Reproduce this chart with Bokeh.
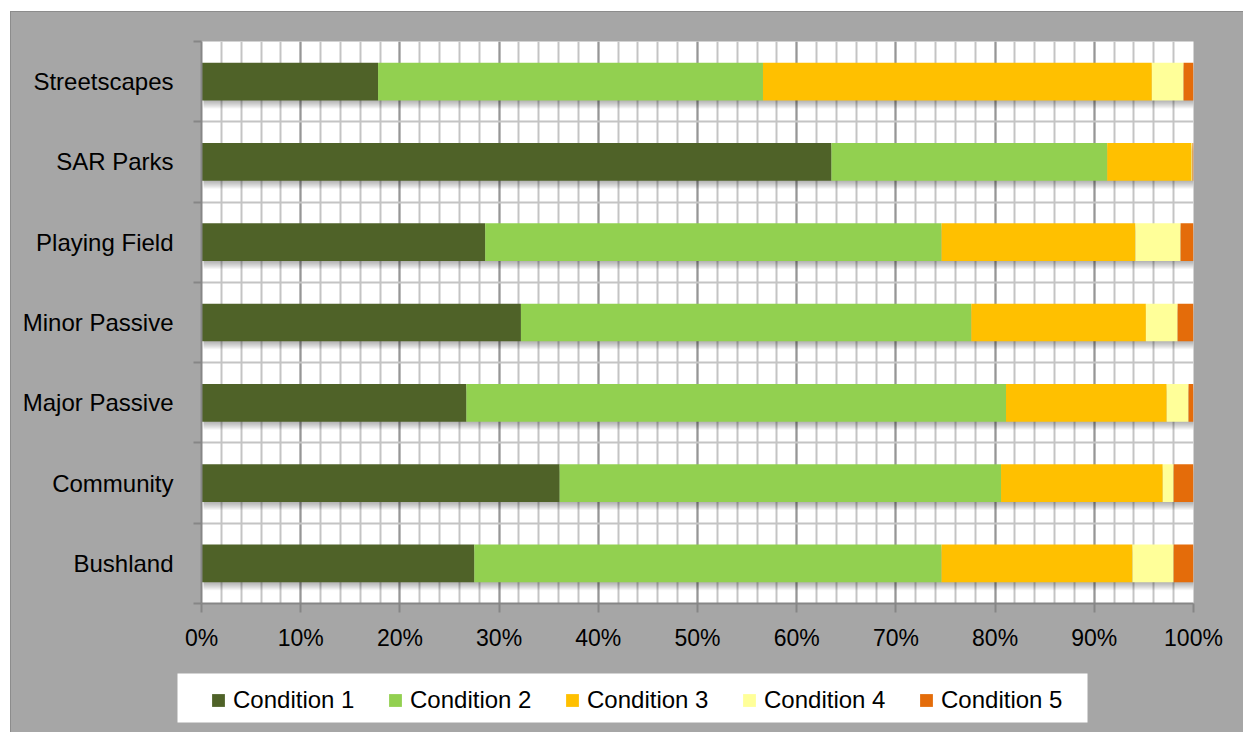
from bokeh.plotting import figure
from bokeh.layouts import column
from bokeh.models import (Range1d, FixedTicker, PrintfTickFormatter, Legend, LegendItem,
                          ColumnDataSource)
from bokeh.embed import file_html
from bokeh.resources import INLINE
import numpy as np

categories = ["Bushland", "Community", "Major Passive", "Minor Passive",
              "Playing Field", "SAR Parks", "Streetscapes"]
cond1 = [27.5, 36.1, 26.7, 32.2, 28.6, 63.5, 17.8]
cond2 = [47.1, 44.5, 54.4, 45.4, 46.0, 27.8, 38.8]
cond3 = [19.25, 16.3, 16.2, 17.6, 19.55, 8.5, 39.2]
cond4 = [4.15, 1.1, 2.2, 3.2, 4.55, 0.1, 3.2]
cond5 = [2.0, 2.0, 0.5, 1.6, 1.3, 0.1, 1.0]
series_names = ["Condition 1", "Condition 2", "Condition 3", "Condition 4", "Condition 5"]
colors = ["#4f6228", "#92d050", "#ffc000", "#ffff99", "#e46c0a"]
x_ticks = list(range(0, 101, 10))
x_minor = list(range(0, 101, 2))

FONT = "Liberation Sans"
BG = "#a6a6a6"
EDGE = "#8c8c8c"
PAD_L, PAD_T = 10, 11          # white page strip left/top of the chart box
W = 1244 - PAD_L - 1
H1 = 660 - PAD_T - 1
H2 = 73
ML, MR, MT, MB = 190, 51, 29, 57
frame_w = W - ML - MR
frame_h = H1 - MT - MB

n = len(categories)
ypos = [i + 0.5 for i in range(n)]
keys = ["c1", "c2", "c3", "c4", "c5"]
src = ColumnDataSource(dict(y=ypos, c1=cond1, c2=cond2, c3=cond3, c4=cond4, c5=cond5))

p = figure(width=W, height=H1, x_range=Range1d(0, 100), y_range=Range1d(0, n),
           output_backend="svg", toolbar_location=None,
           min_border_left=ML, min_border_right=MR, min_border_top=MT, min_border_bottom=MB,
           border_fill_color=BG, background_fill_color="white",
           outline_line_color=None)
p.frame_align = False
p.styles = {"border-left": f"1px solid {EDGE}", "border-top": f"1px solid {EDGE}"}

# grids
p.xgrid.ticker = FixedTicker(ticks=x_ticks, minor_ticks=x_minor)
p.xgrid.grid_line_color = "#969696"
p.xgrid.grid_line_width = 2
p.xgrid.minor_grid_line_color = "#c4c4c4"
p.xgrid.minor_grid_line_width = 2
p.ygrid.ticker = FixedTicker(ticks=list(range(n + 1)))
p.ygrid.grid_line_color = "#c4c4c4"
p.ygrid.grid_line_width = 2

# soft shadows under the bars
bar_h = 0.47
py = n / frame_h
px = 100.0 / frame_w
totals = np.sum([cond1, cond2, cond3, cond4, cond5], axis=0)
for k in range(1, 9):
    p.hbar(y=[v - k * py for v in ypos], left=[2 * px] * n, right=list(totals + 2 * px),
           height=bar_h, fill_color="black", fill_alpha=0.04, line_color=None)

p.hbar_stack(keys, y="y", height=bar_h, color=colors, source=src, line_color=None)

# axes
xa = p.xaxis[0]
xa.ticker = FixedTicker(ticks=x_ticks)
xa.formatter = PrintfTickFormatter(format="%d%%")
xa.axis_line_color = "#868686"
xa.axis_line_width = 2
xa.major_tick_line_color = "#868686"
xa.major_tick_line_width = 2
xa.major_tick_out = 9
xa.major_tick_in = 0
xa.minor_tick_line_color = None
xa.major_label_text_font = FONT
xa.major_label_text_font_size = "23px"
xa.major_label_text_color = "black"
xa.major_label_standoff = 12

ya = p.yaxis[0]
ya.ticker = FixedTicker(ticks=ypos, minor_ticks=list(range(n + 1)))
ya.major_label_overrides = {y: c for y, c in zip(ypos, categories)}
ya.axis_line_color = "#868686"
ya.axis_line_width = 2
ya.major_tick_line_color = None
ya.major_tick_out = 0
ya.major_tick_in = 0
ya.minor_tick_line_color = "#868686"
ya.minor_tick_line_width = 2
ya.minor_tick_out = 8
ya.minor_tick_in = 0
ya.major_label_text_font = FONT
ya.major_label_text_font_size = "24px"
ya.major_label_text_color = "black"
ya.major_label_standoff = 20

# legend strip (pixel coordinates, y downward)
X0 = PAD_L + 1
LEG_L, LEG_R, LEG_T, LEG_B = 177 - X0, 1087 - X0, 14, 63
q = figure(width=W, height=H2, x_range=Range1d(0, W), y_range=Range1d(H2, 0),
           output_backend="svg", toolbar_location=None,
           x_axis_type=None, y_axis_type=None,
           min_border_left=0, min_border_right=0, min_border_top=0, min_border_bottom=0,
           border_fill_color=BG, background_fill_color=BG, outline_line_color=None)
q.frame_align = False
q.styles = {"border-left": f"1px solid {EDGE}"}
q.grid.visible = False
q.quad(left=[LEG_L], right=[LEG_R], top=[LEG_T], bottom=[LEG_B], fill_color="white", line_color=None)
off = ColumnDataSource(dict(y=[3 * H2], left=[0], right=[1]))
dummies = [q.hbar(y="y", left="left", right="right", height=1, source=off,
                  fill_color=c, line_color=None) for c in colors]

legend = Legend(items=[LegendItem(label=nm, renderers=[r]) for nm, r in zip(series_names, dummies)],
                orientation="horizontal", location=(210 - X0, 18), padding=0, margin=0,
                spacing=24, label_standoff=7, glyph_width=16, glyph_height=16, label_width=130,
                label_text_font=FONT, label_text_font_size="24px", label_text_color="black",
                background_fill_alpha=0, border_line_color=None)
q.add_layout(legend, "center")

layout = column(p, q, spacing=0,
                styles={"border-left": f"{PAD_L}px solid white",
                        "border-top": f"{PAD_T}px solid white",
                        "background-color": BG})
open("out.html", "w").write(file_html(layout, INLINE))
